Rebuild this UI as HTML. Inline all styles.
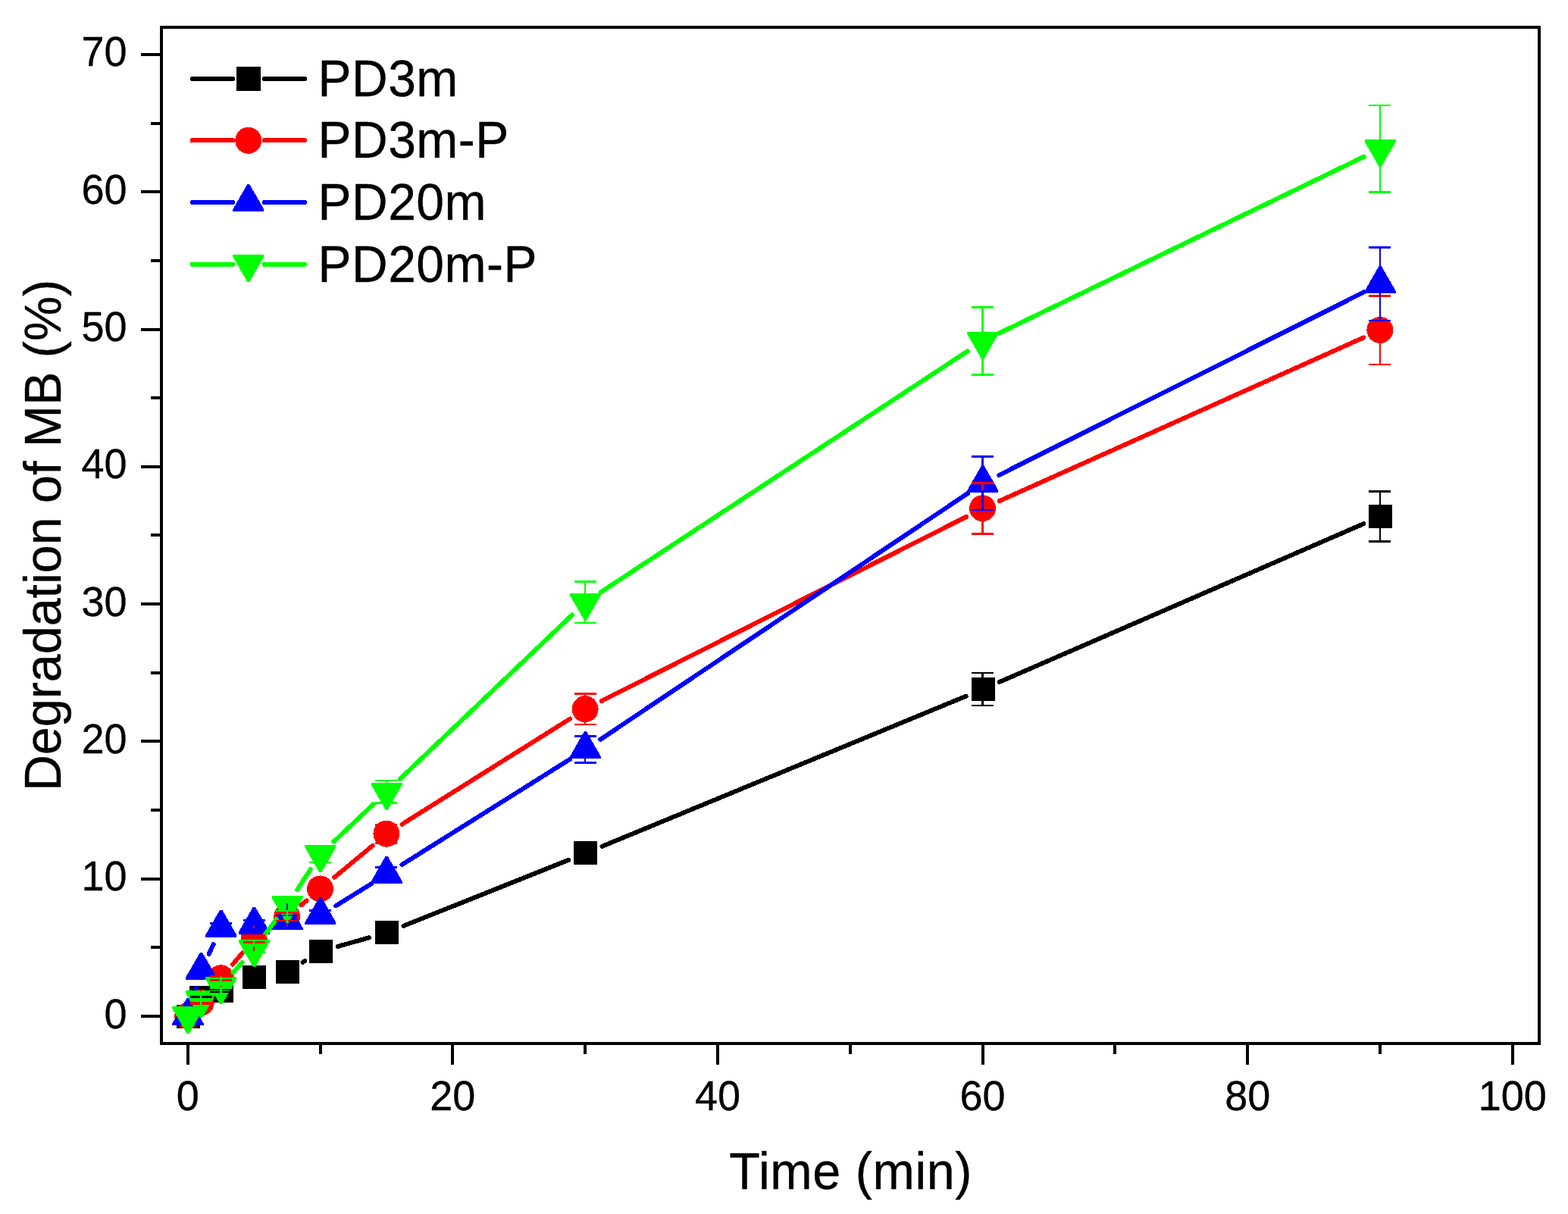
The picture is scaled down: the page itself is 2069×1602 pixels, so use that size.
<!DOCTYPE html>
<html lang="en"><head><meta charset="utf-8"><title>Degradation of MB (%) vs Time (min)</title>
<style>html,body{margin:0;padding:0;background:#fff}body{width:2069px;height:1602px;overflow:hidden}svg{display:block}text{font-family:"Liberation Sans",Arial,Helvetica,sans-serif;fill:#000;stroke:#000;stroke-width:0.35px}.tk{font-size:54px}.ti{font-size:66.4px}.lg{font-size:66px}</style></head><body>
<svg width="2069" height="1602" viewBox="0 0 2069 1602">
<rect width="2069" height="1602" fill="#fff"/>
<g shape-rendering="crispEdges">
<g stroke="#000000" stroke-width="6" stroke-linecap="round" fill="none">
<line x1="399.51" y1="1269.82" x2="402.39" y2="1268.05"/>
<line x1="445.9" y1="1248.92" x2="487.1" y2="1237.29"/>
<line x1="532.49" y1="1221.87" x2="750.11" y2="1134.9"/>
<line x1="794.58" y1="1116.83" x2="1274.62" y2="918.69"/>
<line x1="1318.81" y1="899.96" x2="1799.19" y2="691.21"/>
</g>
<g>
<rect x="233" y="1325.5" width="31" height="31" fill="#000000"/>
<rect x="250.48" y="1301.03" width="31" height="31" fill="#000000"/>
<rect x="276.7" y="1291.78" width="31" height="31" fill="#000000"/>
<rect x="320.4" y="1274.01" width="31" height="31" fill="#000000"/>
<rect x="364.1" y="1266.94" width="31" height="31" fill="#000000"/>
<rect x="407.8" y="1239.93" width="31" height="31" fill="#000000"/>
<rect x="495.2" y="1215.28" width="31" height="31" fill="#000000"/>
<rect x="757.4" y="1110.49" width="31" height="31" fill="#000000"/>
<rect x="1281.8" y="894.03" width="31" height="31" fill="#000000"/>
<rect x="1806.2" y="666.15" width="31" height="31" fill="#000000"/>
</g>
<g stroke="#ff0000" stroke-width="6" stroke-linecap="round" fill="none">
<line x1="307.14" y1="1272.59" x2="319.96" y2="1257.31"/>
<line x1="355.36" y1="1225.6" x2="359.14" y2="1223.08"/>
<line x1="397.5" y1="1194.33" x2="404.4" y2="1188.54"/>
<line x1="441.25" y1="1157.78" x2="491.75" y2="1115.78"/>
<line x1="530.53" y1="1087.67" x2="752.07" y2="948.58"/>
<line x1="793.82" y1="925" x2="1275.38" y2="681.77"/>
<line x1="1318.7" y1="661.13" x2="1799.3" y2="445.46"/>
</g>
<g>
<circle cx="247.7" cy="1340.8" r="17.5" fill="#ff0000"/>
<circle cx="265.18" cy="1323.21" r="17.5" fill="#ff0000"/>
<circle cx="291.4" cy="1290.76" r="17.5" fill="#ff0000"/>
<circle cx="335.1" cy="1238.73" r="17.5" fill="#ff0000"/>
<circle cx="378.8" cy="1209.55" r="17.5" fill="#ff0000"/>
<circle cx="422.5" cy="1172.93" r="17.5" fill="#ff0000"/>
<circle cx="509.9" cy="1100.23" r="17.5" fill="#ff0000"/>
<circle cx="772.1" cy="935.62" r="17.5" fill="#ff0000"/>
<circle cx="1296.5" cy="670.75" r="17.5" fill="#ff0000"/>
<circle cx="1820.9" cy="435.44" r="17.5" fill="#ff0000"/>
</g>
<g stroke="#0000ff" stroke-width="6" stroke-linecap="round" fill="none">
<line x1="254.68" y1="1317.95" x2="258.8" y2="1303.68"/>
<line x1="275.63" y1="1258.88" x2="281.55" y2="1246.18"/>
<line x1="443.2" y1="1195.28" x2="489.8" y2="1166.38"/>
<line x1="530.53" y1="1140.97" x2="752.07" y2="1001.88"/>
<line x1="792.34" y1="975.76" x2="1276.86" y2="651.13"/>
<line x1="1318.25" y1="627.02" x2="1799.75" y2="385.49"/>
</g>
<g>
<polygon points="246.5,1317.2 249.5,1317.2 268.6,1350.4 268.6,1353.1 227.4,1353.1 227.4,1350.4" fill="#0000ff"/>
<polygon points="263.98,1256.83 266.98,1256.83 286.08,1290.03 286.08,1292.73 244.88,1292.73 244.88,1290.03" fill="#0000ff"/>
<polygon points="290.2,1200.63 293.2,1200.63 312.3,1233.83 312.3,1236.53 271.1,1236.53 271.1,1233.83" fill="#0000ff"/>
<polygon points="333.9,1196.82 336.9,1196.82 356,1230.02 356,1232.72 314.8,1232.72 314.8,1230.02" fill="#0000ff"/>
<polygon points="377.6,1191.57 380.6,1191.57 399.7,1224.77 399.7,1227.47 358.5,1227.47 358.5,1224.77" fill="#0000ff"/>
<polygon points="421.3,1184.13 424.3,1184.13 443.4,1217.33 443.4,1220.03 402.2,1220.03 402.2,1217.33" fill="#0000ff"/>
<polygon points="508.7,1129.93 511.7,1129.93 530.8,1163.13 530.8,1165.83 489.6,1165.83 489.6,1163.13" fill="#0000ff"/>
<polygon points="770.9,965.32 773.9,965.32 793,998.52 793,1001.22 751.8,1001.22 751.8,998.52" fill="#0000ff"/>
<polygon points="1295.3,613.98 1298.3,613.98 1317.4,647.18 1317.4,649.88 1276.2,649.88 1276.2,647.18" fill="#0000ff"/>
<polygon points="1819.7,350.92 1822.7,350.92 1841.8,384.12 1841.8,386.82 1800.6,386.82 1800.6,384.12" fill="#0000ff"/>
</g>
<g stroke="#00ff00" stroke-width="6" stroke-linecap="round" fill="none">
<line x1="307.65" y1="1283.36" x2="319.45" y2="1270.1"/>
<line x1="349.84" y1="1233" x2="364.66" y2="1213.32"/>
<line x1="392.23" y1="1174.06" x2="409.67" y2="1147.35"/>
<line x1="440.25" y1="1110.79" x2="492.75" y2="1061.25"/>
<line x1="527.57" y1="1028.21" x2="755.03" y2="811.33"/>
<line x1="792.46" y1="781.59" x2="1276.74" y2="463.32"/>
<line x1="1318.4" y1="439.69" x2="1799.6" y2="206.79"/>
</g>
<g>
<polygon points="246.5,1364.07 249.5,1364.07 268.6,1330.87 268.6,1328.17 227.4,1328.17 227.4,1330.87" fill="#00ff00"/>
<polygon points="263.98,1343.23 266.98,1343.23 286.08,1310.03 286.08,1307.33 244.88,1307.33 244.88,1310.03" fill="#00ff00"/>
<polygon points="290.2,1325.1 293.2,1325.1 312.3,1291.9 312.3,1289.2 271.1,1289.2 271.1,1291.9" fill="#00ff00"/>
<polygon points="333.9,1275.97 336.9,1275.97 356,1242.77 356,1240.07 314.8,1240.07 314.8,1242.77" fill="#00ff00"/>
<polygon points="377.6,1217.96 380.6,1217.96 399.7,1184.76 399.7,1182.06 358.5,1182.06 358.5,1184.76" fill="#00ff00"/>
<polygon points="421.3,1151.06 424.3,1151.06 443.4,1117.86 443.4,1115.16 402.2,1115.16 402.2,1117.86" fill="#00ff00"/>
<polygon points="508.7,1068.57 511.7,1068.57 530.8,1035.37 530.8,1032.67 489.6,1032.67 489.6,1035.37" fill="#00ff00"/>
<polygon points="770.9,818.57 773.9,818.57 793,785.37 793,782.67 751.8,782.67 751.8,785.37" fill="#00ff00"/>
<polygon points="1295.3,473.94 1298.3,473.94 1317.4,440.74 1317.4,438.04 1276.2,438.04 1276.2,440.74" fill="#00ff00"/>
<polygon points="1819.7,220.13 1822.7,220.13 1841.8,186.93 1841.8,184.23 1800.6,184.23 1800.6,186.93" fill="#00ff00"/>
</g>
<g fill="#000000">
<rect x="263.98" y="1301.03" width="2.5" height="14.28"/>
<rect x="251" y="1314.05" width="29" height="2.5"/>
<rect x="263.98" y="1317.75" width="2.5" height="14.28"/>
<rect x="251" y="1316.5" width="29" height="2.5"/>
<rect x="290.2" y="1291.78" width="2.5" height="13.81"/>
<rect x="277" y="1304.34" width="29" height="2.5"/>
<rect x="290.2" y="1308.97" width="2.5" height="13.81"/>
<rect x="277" y="1307.72" width="29" height="2.5"/>
<rect x="333.9" y="1274.01" width="2.5" height="12.93"/>
<rect x="321" y="1285.69" width="29" height="2.5"/>
<rect x="333.9" y="1292.09" width="2.5" height="12.93"/>
<rect x="321" y="1290.84" width="29" height="2.5"/>
<rect x="377.6" y="1266.94" width="2.5" height="12.57"/>
<rect x="364" y="1278.27" width="29" height="2.5"/>
<rect x="377.6" y="1285.37" width="2.5" height="12.57"/>
<rect x="364" y="1284.12" width="29" height="2.5"/>
<rect x="421.3" y="1239.93" width="2.5" height="11.22"/>
<rect x="408" y="1249.9" width="29" height="2.5"/>
<rect x="421.3" y="1259.71" width="2.5" height="11.22"/>
<rect x="408" y="1258.46" width="29" height="2.5"/>
<rect x="508.7" y="1215.28" width="2.5" height="9.99"/>
<rect x="495" y="1224.01" width="29" height="2.5"/>
<rect x="508.7" y="1236.29" width="2.5" height="9.99"/>
<rect x="495" y="1235.04" width="29" height="2.5"/>
<rect x="770.9" y="1110.49" width="2.5" height="4.75"/>
<rect x="758" y="1113.99" width="29" height="2.5"/>
<rect x="770.9" y="1136.74" width="2.5" height="4.75"/>
<rect x="758" y="1135.49" width="29" height="2.5"/>
<rect x="1295.3" y="887.96" width="2.5" height="6.07"/>
<rect x="1282" y="886.71" width="29" height="2.5"/>
<rect x="1295.3" y="925.03" width="2.5" height="6.07"/>
<rect x="1282" y="929.85" width="29" height="2.5"/>
<rect x="1819.7" y="648.68" width="2.5" height="17.47"/>
<rect x="1806" y="647.43" width="29" height="2.5"/>
<rect x="1819.7" y="697.15" width="2.5" height="17.47"/>
<rect x="1806" y="713.37" width="29" height="2.5"/>
</g>
<g fill="#ff0000">
<rect x="263.98" y="1306.01" width="2.5" height="16.52"/>
<rect x="251" y="1321.29" width="29" height="2.5"/>
<rect x="263.98" y="1324.29" width="2.5" height="16.52"/>
<rect x="251" y="1323.04" width="29" height="2.5"/>
<rect x="290.2" y="1273.56" width="2.5" height="14.9"/>
<rect x="277" y="1287.21" width="29" height="2.5"/>
<rect x="290.2" y="1293.47" width="2.5" height="14.9"/>
<rect x="277" y="1292.22" width="29" height="2.5"/>
<rect x="333.9" y="1221.53" width="2.5" height="12.9"/>
<rect x="321" y="1233.19" width="29" height="2.5"/>
<rect x="333.9" y="1243.43" width="2.5" height="12.9"/>
<rect x="321" y="1242.18" width="29" height="2.5"/>
<rect x="377.6" y="1192.35" width="2.5" height="12.14"/>
<rect x="364" y="1203.24" width="29" height="2.5"/>
<rect x="377.6" y="1215" width="2.5" height="12.14"/>
<rect x="364" y="1213.75" width="29" height="2.5"/>
<rect x="421.3" y="1155.73" width="2.5" height="9.01"/>
<rect x="408" y="1163.48" width="29" height="2.5"/>
<rect x="421.3" y="1181.52" width="2.5" height="9.01"/>
<rect x="408" y="1180.27" width="29" height="2.5"/>
<rect x="508.7" y="1083.03" width="2.5" height="5.37"/>
<rect x="495" y="1087.15" width="29" height="2.5"/>
<rect x="508.7" y="1112.46" width="2.5" height="5.37"/>
<rect x="495" y="1111.21" width="29" height="2.5"/>
<rect x="770.9" y="915.56" width="2.5" height="2.86"/>
<rect x="758" y="914.31" width="29" height="2.5"/>
<rect x="770.9" y="953.22" width="2.5" height="2.86"/>
<rect x="758" y="954.83" width="29" height="2.5"/>
<rect x="1295.3" y="637.45" width="2.5" height="16.1"/>
<rect x="1282" y="636.2" width="29" height="2.5"/>
<rect x="1295.3" y="688.35" width="2.5" height="16.1"/>
<rect x="1282" y="703.2" width="29" height="2.5"/>
<rect x="1819.7" y="390.37" width="2.5" height="27.87"/>
<rect x="1806" y="389.12" width="29" height="2.5"/>
<rect x="1819.7" y="453.04" width="2.5" height="27.87"/>
<rect x="1806" y="479.66" width="29" height="2.5"/>
</g>
<g fill="#0000ff">
<rect x="290.2" y="1200.73" width="2.5" height="17.87"/>
<rect x="277" y="1217.35" width="29" height="2.5"/>
<rect x="290.2" y="1230.26" width="2.5" height="6.07"/>
<rect x="277" y="1229.01" width="29" height="2.5"/>
<rect x="333.9" y="1196.92" width="2.5" height="17.68"/>
<rect x="321" y="1213.35" width="29" height="2.5"/>
<rect x="333.9" y="1226.64" width="2.5" height="5.88"/>
<rect x="321" y="1225.39" width="29" height="2.5"/>
<rect x="377.6" y="1191.67" width="2.5" height="16.27"/>
<rect x="364" y="1206.68" width="29" height="2.5"/>
<rect x="377.6" y="1222.8" width="2.5" height="4.47"/>
<rect x="364" y="1221.55" width="29" height="2.5"/>
<rect x="421.3" y="1184.23" width="2.5" height="17.05"/>
<rect x="408" y="1200.03" width="29" height="2.5"/>
<rect x="421.3" y="1214.59" width="2.5" height="5.25"/>
<rect x="408" y="1213.34" width="29" height="2.5"/>
<rect x="508.7" y="1130.03" width="2.5" height="14.34"/>
<rect x="495" y="1143.11" width="29" height="2.5"/>
<rect x="508.7" y="1163.09" width="2.5" height="2.54"/>
<rect x="495" y="1161.84" width="29" height="2.5"/>
<rect x="770.9" y="965.42" width="2.5" height="6.11"/>
<rect x="758" y="970.27" width="29" height="2.5"/>
<rect x="770.9" y="1001.02" width="2.5" height="5.69"/>
<rect x="758" y="1005.46" width="29" height="2.5"/>
<rect x="1295.3" y="602.61" width="2.5" height="11.46"/>
<rect x="1282" y="601.36" width="29" height="2.5"/>
<rect x="1295.3" y="647.08" width="2.5" height="25.86"/>
<rect x="1282" y="671.69" width="29" height="2.5"/>
<rect x="1819.7" y="326.41" width="2.5" height="24.61"/>
<rect x="1806" y="325.16" width="29" height="2.5"/>
<rect x="1819.7" y="386.62" width="2.5" height="36.41"/>
<rect x="1806" y="421.79" width="29" height="2.5"/>
</g>
<g fill="#00ff00">
<rect x="263.98" y="1307.53" width="2.5" height="10.82"/>
<rect x="251" y="1317.1" width="29" height="2.5"/>
<rect x="263.98" y="1320.51" width="2.5" height="22.62"/>
<rect x="251" y="1319.26" width="29" height="2.5"/>
<rect x="290.2" y="1289.4" width="2.5" height="9.91"/>
<rect x="277" y="1298.06" width="29" height="2.5"/>
<rect x="290.2" y="1303.28" width="2.5" height="21.71"/>
<rect x="277" y="1302.03" width="29" height="2.5"/>
<rect x="333.9" y="1240.27" width="2.5" height="7.46"/>
<rect x="321" y="1246.48" width="29" height="2.5"/>
<rect x="333.9" y="1256.61" width="2.5" height="19.26"/>
<rect x="321" y="1255.36" width="29" height="2.5"/>
<rect x="377.6" y="1182.26" width="2.5" height="3.92"/>
<rect x="364" y="1184.93" width="29" height="2.5"/>
<rect x="377.6" y="1202.13" width="2.5" height="15.72"/>
<rect x="364" y="1200.88" width="29" height="2.5"/>
<rect x="421.3" y="1115.36" width="2.5" height="1.21"/>
<rect x="408" y="1115.32" width="29" height="2.5"/>
<rect x="421.3" y="1137.95" width="2.5" height="13.01"/>
<rect x="408" y="1136.7" width="29" height="2.5"/>
<rect x="508.7" y="1029.96" width="2.5" height="2.91"/>
<rect x="495" y="1028.71" width="29" height="2.5"/>
<rect x="508.7" y="1059.58" width="2.5" height="8.89"/>
<rect x="495" y="1058.33" width="29" height="2.5"/>
<rect x="770.9" y="767.46" width="2.5" height="15.41"/>
<rect x="758" y="766.21" width="29" height="2.5"/>
<rect x="770.9" y="818.47" width="2.5" height="3.61"/>
<rect x="758" y="820.83" width="29" height="2.5"/>
<rect x="1295.3" y="405.6" width="2.5" height="32.64"/>
<rect x="1282" y="404.35" width="29" height="2.5"/>
<rect x="1295.3" y="473.84" width="2.5" height="20.84"/>
<rect x="1282" y="493.43" width="29" height="2.5"/>
<rect x="1819.7" y="139.1" width="2.5" height="45.33"/>
<rect x="1806" y="137.85" width="29" height="2.5"/>
<rect x="1819.7" y="220.03" width="2.5" height="33.53"/>
<rect x="1806" y="252.32" width="29" height="2.5"/>
</g>
</g>
<g shape-rendering="crispEdges" fill="#000">
<rect x="211" y="34" width="1822" height="4"/><rect x="211" y="1375" width="1822" height="4"/><rect x="211" y="34" width="4" height="1345"/><rect x="2029" y="34" width="4" height="1345"/>
<rect x="246" y="1377" width="4" height="28"/>
<rect x="421" y="1377" width="4" height="14"/>
<rect x="595" y="1377" width="4" height="28"/>
<rect x="770" y="1377" width="4" height="14"/>
<rect x="945" y="1377" width="4" height="28"/>
<rect x="1120" y="1377" width="4" height="14"/>
<rect x="1295" y="1377" width="4" height="28"/>
<rect x="1469" y="1377" width="4" height="14"/>
<rect x="1644" y="1377" width="4" height="28"/>
<rect x="1819" y="1377" width="4" height="14"/>
<rect x="1994" y="1377" width="4" height="28"/>
<rect x="186" y="1339" width="27" height="4"/>
<rect x="199" y="1248" width="14" height="4"/>
<rect x="186" y="1158" width="27" height="4"/>
<rect x="199" y="1067" width="14" height="4"/>
<rect x="186" y="976" width="27" height="4"/>
<rect x="199" y="886" width="14" height="4"/>
<rect x="186" y="795" width="27" height="4"/>
<rect x="199" y="704" width="14" height="4"/>
<rect x="186" y="614" width="27" height="4"/>
<rect x="199" y="523" width="14" height="4"/>
<rect x="186" y="433" width="27" height="4"/>
<rect x="199" y="342" width="14" height="4"/>
<rect x="186" y="251" width="27" height="4"/>
<rect x="199" y="161" width="14" height="4"/>
<rect x="186" y="70" width="27" height="4"/>
</g>
<g class="tk" text-anchor="middle">
<text transform="translate(247.75 1464.8) scale(1 1.012)">0</text>
<text transform="translate(597.35 1464.8) scale(1 1.012)">20</text>
<text transform="translate(946.95 1464.8) scale(1 1.012)">40</text>
<text transform="translate(1296.55 1464.8) scale(1 1.012)">60</text>
<text transform="translate(1646.15 1464.8) scale(1 1.012)">80</text>
<text transform="translate(1995.75 1464.8) scale(1 1.012)">100</text>
</g>
<g class="tk" text-anchor="end">
<text transform="translate(167.6 1356.5) scale(1 1.012)">0</text>
<text transform="translate(167.6 1175.21) scale(1 1.012)">10</text>
<text transform="translate(167.6 993.92) scale(1 1.012)">20</text>
<text transform="translate(167.6 812.63) scale(1 1.012)">30</text>
<text transform="translate(167.6 631.34) scale(1 1.012)">40</text>
<text transform="translate(167.6 450.05) scale(1 1.012)">50</text>
<text transform="translate(167.6 268.76) scale(1 1.012)">60</text>
<text transform="translate(167.6 87.47) scale(1 1.012)">70</text>
</g>
<text class="ti" style="letter-spacing:0.6px" transform="translate(962.3 1568.7) scale(1 1.02)">Time (min)</text>
<text class="ti" text-anchor="middle" transform="translate(79.8 706.5) rotate(-90) scale(1 1.02)">Degradation of MB (%)</text>
<g shape-rendering="crispEdges">
<g stroke="#000000" stroke-width="6" stroke-linecap="round"><line x1="253.6" y1="104" x2="307.3" y2="104"/><line x1="348.6" y1="104" x2="402" y2="104"/></g>
<rect x="312" y="88" width="32" height="32" fill="#000000"/>
<g stroke="#ff0000" stroke-width="6" stroke-linecap="round"><line x1="253.6" y1="185.3" x2="307.3" y2="185.3"/><line x1="348.6" y1="185.3" x2="402" y2="185.3"/></g>
<circle cx="327.8" cy="185.3" r="17.5" fill="#ff0000"/>
<g stroke="#0000ff" stroke-width="6" stroke-linecap="round"><line x1="253.6" y1="267" x2="307.3" y2="267"/><line x1="348.6" y1="267" x2="402" y2="267"/></g>
<polygon points="326.3,243.2 329.3,243.2 348.4,276.4 348.4,279.1 307.2,279.1 307.2,276.4" fill="#0000ff"/>
<g stroke="#00ff00" stroke-width="6" stroke-linecap="round"><line x1="253.6" y1="348.7" x2="307.3" y2="348.7"/><line x1="348.6" y1="348.7" x2="402" y2="348.7"/></g>
<polygon points="326.3,371.9 329.3,371.9 348.4,338.7 348.4,336 307.2,336 307.2,338.7" fill="#00ff00"/>
</g>
<g class="lg" style="letter-spacing:0.5px">
<text transform="translate(419.5 126.5) scale(1 1.03)">PD3m</text>
<text transform="translate(419.5 207.8) scale(1 1.03)">PD3m-P</text>
<text transform="translate(419.5 289.6) scale(1 1.03)">PD20m</text>
<text transform="translate(419.5 371.5) scale(1 1.03)">PD20m-P</text>
</g>
</svg></body></html>
